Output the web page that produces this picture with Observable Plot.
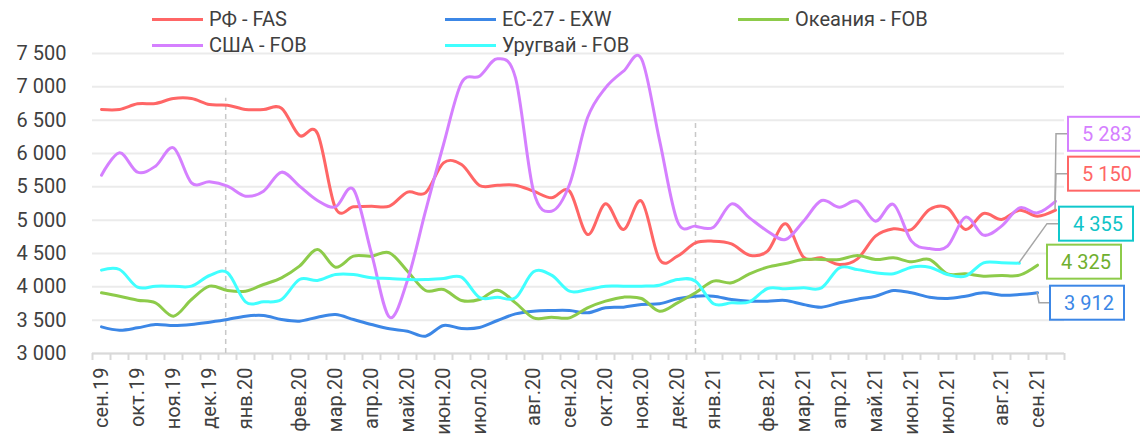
<!DOCTYPE html>
<html><head><meta charset="utf-8">
<script src="https://cdn.jsdelivr.net/npm/d3@7"></script>
<script src="https://cdn.jsdelivr.net/npm/@observablehq/plot@0.6"></script>
<style>
body{margin:0;background:#fff;font-family:Roboto,sans-serif;}
#wrap{position:relative;width:1140px;height:437px;overflow:hidden;background:#fff;}
#legend{position:absolute;left:0;top:0;width:1140px;height:60px;pointer-events:none;}
.li{position:absolute;display:flex;align-items:center;font-size:20px;color:#404040;white-space:nowrap;transform:translateY(-50%);}
.li .sw{display:inline-block;width:51px;height:3px;margin-right:6px;}
</style></head><body><div id="wrap"></div>
<script>
// ---- data ----
const categoryCount = 54;
const tickLabelIndex = [0,2,4,6,8,11,13,15,17,19,21,24,26,28,30,32,34,37,39,41,43,45,47,50,52];
const tickLabels = ["сен.19","окт.19","ноя.19","дек.19","янв.20","фев.20","мар.20","апр.20","май.20","июн.20","июл.20","авг.20","сен.20","окт.20","ноя.20","дек.20","янв.21","фев.21","мар.21","апр.21","май.21","июн.21","июл.21","авг.21","сен.21"];
const yTicks = [3000,3500,4000,4500,5000,5500,6000,6500,7000,7500];
const seriesNames = ["РФ - FAS","ЕС-27 - EXW","Океания - FOB","США - FOB","Уругвай - FOB"];
const rfFas = [6660,6660,6745,6750,6825,6825,6735,6725,6660,6660,6680,6270,6300,5180,5200,5210,5210,5420,5410,5860,5835,5520,5525,5525,5435,5335,5435,4785,5245,4860,5285,4410,4460,4660,4685,4645,4475,4535,4945,4445,4435,4335,4420,4760,4870,4860,5160,5185,4860,5100,5010,5150,5060,5150];
const euExw = [3400,3350,3385,3435,3420,3435,3470,3510,3560,3570,3510,3485,3545,3585,3510,3435,3370,3335,3260,3420,3375,3390,3495,3595,3635,3645,3645,3610,3685,3695,3735,3745,3820,3860,3860,3810,3785,3785,3795,3735,3695,3760,3815,3860,3945,3910,3845,3825,3860,3910,3875,3885,3912];
const oceaniaFob = [3910,3860,3800,3760,3560,3810,4010,3945,3935,4035,4135,4310,4560,4295,4460,4460,4510,4235,3945,3960,3795,3810,3950,3760,3535,3545,3535,3685,3785,3845,3825,3635,3760,3910,4085,4060,4195,4295,4350,4410,4410,4410,4470,4410,4435,4375,4410,4195,4195,4160,4170,4175,4325];
const usaFob = [5675,6010,5720,5810,6085,5560,5575,5510,5360,5435,5720,5510,5295,5200,5460,4500,3545,4100,5135,6135,7060,7160,7420,7135,5435,5135,5535,6535,6985,7235,7420,6200,4980,4910,4895,5245,5035,4835,4710,4985,5295,5195,5285,4985,5235,4685,4575,4610,5045,4775,4910,5185,5110,5283];
const uruguayFob = [4250,4260,3995,4010,4010,4010,4170,4210,3775,3775,3810,4110,4095,4185,4185,4135,4125,4110,4110,4125,4145,3840,3845,3835,4225,4175,3935,3960,4010,4010,4010,4025,4110,4085,3745,3760,3775,3975,3970,3985,3985,4285,4258,4210,4195,4295,4295,4185,4160,4360,4360,4355];
const yearMarkIndex = [6.9, 33];
const yearMarkTop = [6830, 6455];

// ---- styles ----
const seriesValues = [rfFas, euExw, oceaniaFob, usaFob, uruguayFob];
const colors = ["#FF6666","#3C87E6","#8DCB4A","#D580FF","#40FFFF"];
const labelText = ["#FF6666","#3C87E6","#6FAF2E","#D580FF","#10C4C8"];
const labelBorder = ["#FF6666","#3C87E6","#8DCB4A","#D580FF","#10C8CC"];
// box offsets relative to series end point (px): left edge dx, centre dy, leader knee dx (null = none)
const labelLayout = [
  {dx:13, dy:-36, knee:1},
  {dx:13, dy:10.5, knee:2},
  {dx:10, dy:-3, knee:null},
  {dx:13, dy:-67, knee:1},
  {dx:40, dy:-39, knee:28}
];
const legendLayout = [[152,19],[445,19],[738,19],[152,45],[445,45]];

const fmt = v => d3.format(",")(v).replace(/,/g, " ");
const rows = [];
seriesValues.forEach((vals, s) => vals.forEach((v, i) => rows.push({s, i, v})));
const boundaries = d3.range(0, categoryCount + 1).map(k => k - 0.5);
const labelMap = new Map(tickLabelIndex.map((k, j) => [k, tickLabels[j]]));
const marks = yearMarkIndex.map((x, j) => ({x, top: yearMarkTop[j]}));

const plot = Plot.plot({
  width: 1140, height: 437,
  marginLeft: 92, marginRight: 76, marginTop: 53, marginBottom: 84,
  style: {fontFamily: "Roboto, sans-serif", fontSize: "20px", color: "#404040", background: "transparent", overflow: "visible"},
  x: {type: "linear", domain: [-0.5, categoryCount - 0.5]},
  y: {domain: [3000, 7500]},
  marks: [
    Plot.gridY(yTicks, {stroke: "#EBEBEB", strokeWidth: 2, strokeOpacity: 1}),
    Plot.ruleY([3000], {stroke: "#D9D9D9", strokeWidth: 2}),
    Plot.axisY(yTicks, {tickSize: 0, tickPadding: 26, tickFormat: fmt, fontSize: 20, fill: "#404040"}),
    Plot.axisX(boundaries, {tickSize: 7, stroke: "#D9D9D9", strokeWidth: 2, tickFormat: () => "", strokeOpacity: 1}),
    Plot.axisX(tickLabelIndex, {tickSize: 0, tickPadding: 14, tickRotate: -90, tickFormat: k => labelMap.get(k), fontSize: 20, fill: "#404040"}),
    Plot.ruleX(marks, {x: "x", y1: 3000, y2: "top", stroke: "#C8C8C8", strokeWidth: 1.5, strokeDasharray: "5,4"}),
    ...seriesValues.map((vals, s) =>
      Plot.line(rows.filter(d => d.s === s), {x: "i", y: "v", stroke: colors[s], strokeWidth: 3, curve: "cardinal", tension: 0}))
  ]
});

const wrap = document.getElementById("wrap");
wrap.appendChild(plot);

// end-of-series value labels
const sx = plot.scale("x"), sy = plot.scale("y");
const svg = d3.select(plot);
const g = svg.append("g");
seriesValues.forEach((vals, s) => {
  const L = labelLayout[s];
  const last = vals.length - 1;
  const ex = sx.apply(last), ey = sy.apply(vals[last]);
  const bx = ex + L.dx, cy = ey + L.dy;
  if (L.knee !== null) {
    g.append("polyline")
      .attr("points", [[ex, ey], [ex + L.knee, cy], [bx, cy]].map(p => p.join(",")).join(" "))
      .attr("fill", "none").attr("stroke", "#A6A6A6").attr("stroke-width", 1.5);
  }
  g.append("rect").attr("x", bx).attr("y", cy - 17).attr("width", 74).attr("height", 34)
    .attr("fill", "#fff").attr("stroke", labelBorder[s]).attr("stroke-width", 2);
  g.append("text").attr("x", bx + 39).attr("y", cy).attr("dy", "0.35em")
    .attr("text-anchor", "middle").attr("font-size", 20).attr("fill", labelText[s])
    .text(fmt(vals[last]));
});

// legend
const legend = document.createElement("div");
legend.id = "legend";
seriesNames.forEach((name, s) => {
  const it = document.createElement("div");
  it.className = "li";
  it.style.left = legendLayout[s][0] + "px";
  it.style.top = legendLayout[s][1] + "px";
  const sw = document.createElement("span");
  sw.className = "sw"; sw.style.background = colors[s];
  it.appendChild(sw);
  it.appendChild(document.createTextNode(name));
  legend.appendChild(it);
});
wrap.appendChild(legend);
</script>
</body></html>
